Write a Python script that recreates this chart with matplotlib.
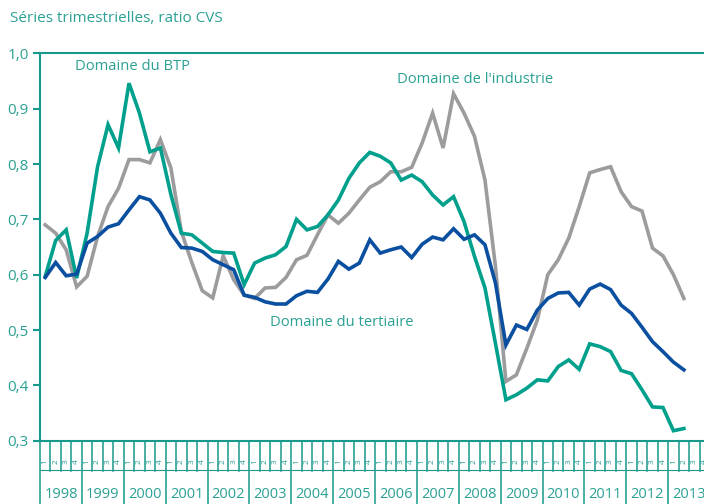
import numpy as np
import matplotlib
matplotlib.use("Agg")
import matplotlib.pyplot as plt
from matplotlib.ticker import FuncFormatter
import matplotlib.transforms as mtransforms

# Séries trimestrielles 1998T1 - 2013T2
annees = list(range(1998, 2014))
trimestres = ["1", "2", "3", "4"]

btp = [0.597, 0.662, 0.681, 0.594, 0.675, 0.795, 0.871, 0.829, 0.946, 0.892,
       0.822, 0.829, 0.745, 0.675, 0.672, 0.657, 0.642, 0.640, 0.639, 0.582,
       0.621, 0.630, 0.636, 0.651, 0.700, 0.681, 0.687, 0.708, 0.735, 0.774,
       0.802, 0.821, 0.814, 0.802, 0.771, 0.780, 0.768, 0.744, 0.726, 0.741,
       0.696, 0.633, 0.576, 0.476, 0.374, 0.383, 0.395, 0.410, 0.408, 0.434,
       0.446, 0.429, 0.475, 0.470, 0.461, 0.427, 0.421, 0.392, 0.361, 0.360,
       0.318, 0.322]

industrie = [0.690, 0.675, 0.645, 0.578, 0.597, 0.669, 0.723, 0.756, 0.808, 0.808,
             0.802, 0.844, 0.793, 0.678, 0.622, 0.571, 0.558, 0.634, 0.591, 0.563,
             0.557, 0.576, 0.577, 0.595, 0.627, 0.635, 0.672, 0.708, 0.693, 0.711,
             0.735, 0.758, 0.768, 0.786, 0.786, 0.794, 0.838, 0.892, 0.829, 0.927,
             0.892, 0.850, 0.771, 0.615, 0.407, 0.419, 0.467, 0.518, 0.600, 0.627,
             0.666, 0.723, 0.784, 0.790, 0.795, 0.750, 0.723, 0.715, 0.648, 0.634,
             0.600, 0.557]

tertiaire = [0.595, 0.622, 0.598, 0.601, 0.657, 0.669, 0.686, 0.692, 0.717, 0.741,
             0.735, 0.711, 0.675, 0.649, 0.648, 0.642, 0.627, 0.618, 0.609, 0.563,
             0.559, 0.551, 0.547, 0.547, 0.562, 0.570, 0.568, 0.592, 0.624, 0.610,
             0.621, 0.663, 0.639, 0.645, 0.650, 0.631, 0.655, 0.668, 0.663, 0.683,
             0.664, 0.672, 0.654, 0.585, 0.473, 0.509, 0.501, 0.536, 0.557, 0.567,
             0.568, 0.545, 0.574, 0.583, 0.573, 0.545, 0.530, 0.505, 0.479, 0.461,
             0.442, 0.428]

TEAL = "#17998b"
TEXT = "#2aa193"
C_BTP = "#00a08c"
C_IND = "#9c9c9e"
C_TER = "#0b4fa0"

plt.rcParams["font.family"] = ["Open Sans", "DejaVu Sans"]

fig = plt.figure(figsize=(7.04, 5.04), dpi=100)
ax = fig.add_axes([0.0568, 0.1256, 0.9432, 0.7686])

x = np.arange(len(btp))
ax.plot(x, industrie, color=C_IND, lw=2.6, solid_joinstyle="miter")
ax.plot(x, btp, color=C_BTP, lw=2.6, solid_joinstyle="miter")
ax.plot(x, tertiaire, color=C_TER, lw=2.6, solid_joinstyle="miter")

ax.set_ylim(0.3, 1.0)
ax.set_xlim(-0.5, -0.5 + 664 / 10.47)
ax.set_yticks(np.arange(0.3, 1.01, 0.1))
ax.yaxis.set_major_formatter(FuncFormatter(lambda v, p: f"{v:.1f}".replace(".", ",")))
ax.tick_params(axis="y", colors=TEAL, labelcolor=TEXT, labelsize=11, length=5, width=1.5, pad=3)
ax.set_xticks([])

for s in ["left", "bottom", "top"]:
    ax.spines[s].set_color(TEAL)
    ax.spines[s].set_linewidth(1.5)
ax.spines["right"].set_visible(False)

# axe des temps : trimestres et années
trans = mtransforms.blended_transform_factory(ax.transData, ax.transAxes)
px = 1 / 387.4
n_q = len(annees) * 4
for k in range(n_q + 1):
    xb = k - 0.5
    bas = -63 * px if k % 4 == 0 else -30 * px
    ax.plot([xb, xb], [0, bas], color=TEAL, lw=1.1, transform=trans, clip_on=False)
for k in range(n_q):
    ax.text(k, -21 * px, trimestres[k % 4], rotation=90, fontsize=6, color=TEXT,
            ha="center", va="center", transform=trans, clip_on=False)
ax.plot([-0.5, n_q], [-29 * px, -29 * px], color=TEAL, lw=0.8, transform=trans, clip_on=False)
for j, an in enumerate(annees):
    ax.text(j * 4 + 1.5, -54 * px, str(an), fontsize=10.5, color=TEXT,
            ha="center", va="center", transform=trans, clip_on=False)

# libellés des séries
ax.text(8.3, 0.976, "Domaine du BTP", fontsize=10.6, color=TEXT, ha="center", va="center")
ax.text(41.1, 0.952, "Domaine de l'industrie", fontsize=10.6, color=TEXT, ha="center", va="center")
ax.text(28.3, 0.514, "Domaine du tertiaire", fontsize=10.6, color=TEXT, ha="center", va="center")

fig.text(10 / 704, 1 - 19 / 504, "Séries trimestrielles, ratio CVS", fontsize=11,
         color=TEXT, ha="left", va="center")

fig.savefig("out.png", dpi=100)
